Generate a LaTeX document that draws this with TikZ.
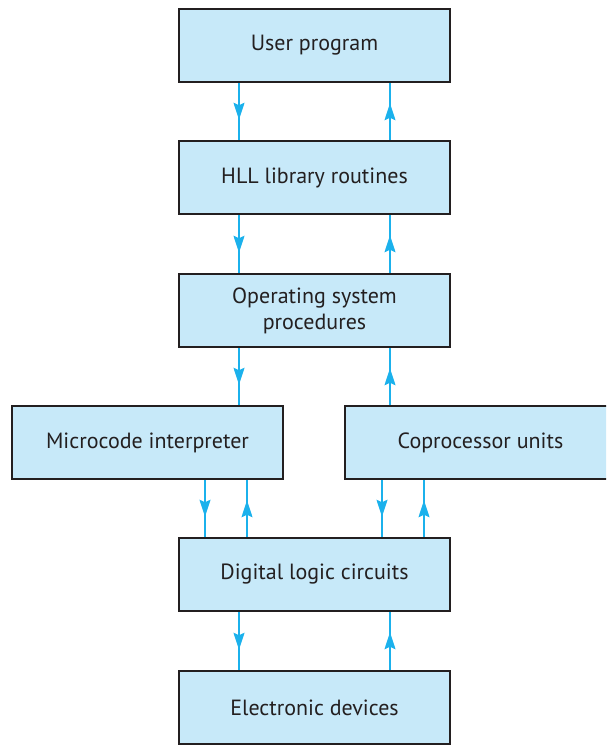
\documentclass[tikz,border=0pt]{standalone}
\usepackage{fontspec}
\setmainfont{PT Sans}
\usetikzlibrary{arrows.meta}
\definecolor{boxfill}{HTML}{C7E9F9}
\definecolor{boxline}{HTML}{231F20}
\definecolor{arrowc}{HTML}{1BB1EC}
\tikzset{
  layerbox/.style={draw=boxline, line width=2.5pt, fill=boxfill, minimum width=271pt,
    minimum height=73pt, inner sep=0pt, align=center, font=\fontsize{22}{26}\selectfont, text=boxline},
  flow/.style={draw=arrowc, line width=1.5pt,
    postaction={draw=arrowc, line width=1.5pt, -{Stealth[length=17pt,width=11pt,inset=2.5pt]}, shorten >=20pt}}
}
\begin{document}
\begin{tikzpicture}[x=1pt,y=-1pt]
\useasboundingbox (0,0) rectangle (606,745);
\clip (0,0) rectangle (606,745);
\node[layerbox] (user) at (314.5,45.5) {User program};
\node[layerbox] (hll) at (314.5,177.5) {HLL library routines};
\node[layerbox] (os) at (314.5,310.5) {Operating system\\procedures};
\node[layerbox] (micro) at (147.5,442.5) {Microcode interpreter};
\node[layerbox] (copro) at (480.5,442.5) {Coprocessor units};
\node[layerbox] (dig) at (314.5,574.5) {Digital logic circuits};
\node[layerbox] (elec) at (314.5,707.5) {Electronic devices};
\coordinate (cl) at (239,0);
\coordinate (cr) at (390,0);
\coordinate (ml) at (205,0);
\coordinate (mr) at (247,0);
\coordinate (pl) at (382,0);
\coordinate (pr) at (424,0);
\draw[flow] (user.south -| cl) -- (hll.north -| cl);
\draw[flow] (hll.north -| cr) -- (user.south -| cr);
\draw[flow] (hll.south -| cl) -- (os.north -| cl);
\draw[flow] (os.north -| cr) -- (hll.south -| cr);
\draw[flow] (os.south -| cl) -- (micro.north -| cl);
\draw[flow] (copro.north -| cr) -- (os.south -| cr);
\draw[flow] (micro.south -| ml) -- (dig.north -| ml);
\draw[flow] (dig.north -| mr) -- (micro.south -| mr);
\draw[flow] (copro.south -| pl) -- (dig.north -| pl);
\draw[flow] (dig.north -| pr) -- (copro.south -| pr);
\draw[flow] (dig.south -| cl) -- (elec.north -| cl);
\draw[flow] (elec.north -| cr) -- (dig.south -| cr);
\end{tikzpicture}
\end{document}
